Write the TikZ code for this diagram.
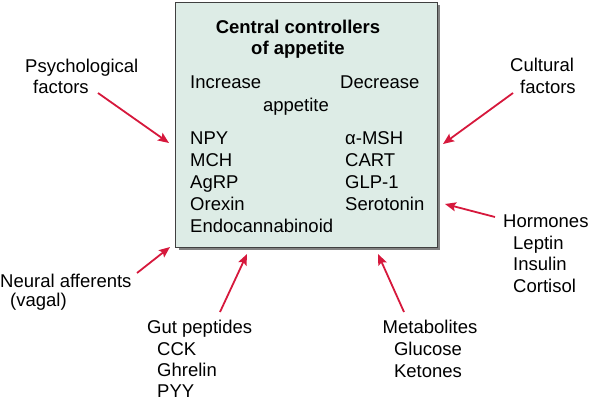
\documentclass[tikz,border=0pt]{standalone}
\usepackage{fontspec}
\setmainfont{Liberation Sans}
\usetikzlibrary{arrows.meta}
\definecolor{boxfill}{RGB}{221,236,230}
\definecolor{arrred}{RGB}{214,24,60}
\definecolor{shadowgray}{RGB}{130,130,130}
\tikzset{
  txt/.style={anchor=base west, inner sep=0pt, font=\fontsize{18.5bp}{22bp}\selectfont},
  txtc/.style={anchor=base, inner sep=0pt, font=\fontsize{18.5bp}{22bp}\selectfont},
  ttl/.style={anchor=base, inner sep=0pt, font=\fontsize{18.5bp}{22bp}\selectfont\bfseries},
  infl/.style={draw=arrred, line width=1.8bp, -{Stealth[length=11bp,width=9bp,inset=2bp]}},
}
\begin{document}
\begin{tikzpicture}[x=1bp,y=-1bp]
\useasboundingbox (0,0) rectangle (589,400);
% box with shadow
\fill[shadowgray] (179,5) rectangle (440,250);
\node[draw=black!75, fill=boxfill, line width=0.8bp, minimum width=262bp, minimum height=245bp, inner sep=0pt, anchor=north west] (ctrl) at (175,2) {};
% title
\node[ttl] (t1) at (298,33) {Central controllers};
\node[ttl] (t2) at (298,54) {of appetite};
\node[txt] (inc) at (190,88.5) {Increase};
\node[txt] (dec) at (340,88.5) {Decrease};
\node[txtc] (app) at (296,111) {appetite};
% increase list
\node[txt] (npy) at (190,144) {NPY};
\node[txt] (mch) at (190,166) {MCH};
\node[txt] (agrp) at (190,188) {AgRP};
\node[txt] (orx) at (190,210) {Orexin};
\node[txt] (endo) at (190,232) {Endocannabinoid};
% decrease list
\node[txt] (msh) at (345,144) {α-MSH};
\node[txt] (cart) at (345,166) {CART};
\node[txt] (glp) at (345,188) {GLP-1};
\node[txt] (ser) at (345,210) {Serotonin};
% outside labels
\node[txt] (psy1) at (25,72) {Psychological};
\node[txt] (psy2) at (33,93) {factors};
\node[txt] (cul1) at (510,71) {Cultural};
\node[txt] (cul2) at (520,93) {factors};
\node[txt] (hor1) at (503,227) {Hormones};
\node[txt] (hor2) at (513,249) {Leptin};
\node[txt] (hor3) at (513,270) {Insulin};
\node[txt] (hor4) at (513,292) {Cortisol};
\node[txt] (neu1) at (0,287) {Neural afferents};
\node[txt] (neu2) at (10,306) {(vagal)};
\node[txt] (gut1) at (147,333) {Gut peptides};
\node[txt] (gut2) at (157,355) {CCK};
\node[txt] (gut3) at (157,376) {Ghrelin};
\node[txt] (gut4) at (157,397) {PYY};
\node[txtc] (met1) at (430,333) {Metabolites};
\node[txtc] (met2) at (428,355) {Glucose};
\node[txtc] (met3) at (428,377) {Ketones};
% arrow end points
\coordinate (psyS) at (98,93);   \coordinate (psyE) at (169,143);
\coordinate (culS) at (513,93);  \coordinate (culE) at (443,144);
\coordinate (horS) at (495,217); \coordinate (horE) at (445,204);
\coordinate (neuS) at (137,273); \coordinate (neuE) at (170,247);
\coordinate (gutS) at (220,312); \coordinate (gutE) at (247,254);
\coordinate (metS) at (404,312); \coordinate (metE) at (378,254);
\draw[infl] (psyS) -- (psyE);
\draw[infl] (culS) -- (culE);
\draw[infl] (horS) -- (horE);
\draw[infl] (neuS) -- (neuE);
\draw[infl] (gutS) -- (gutE);
\draw[infl] (metS) -- (metE);
\end{tikzpicture}
\end{document}
